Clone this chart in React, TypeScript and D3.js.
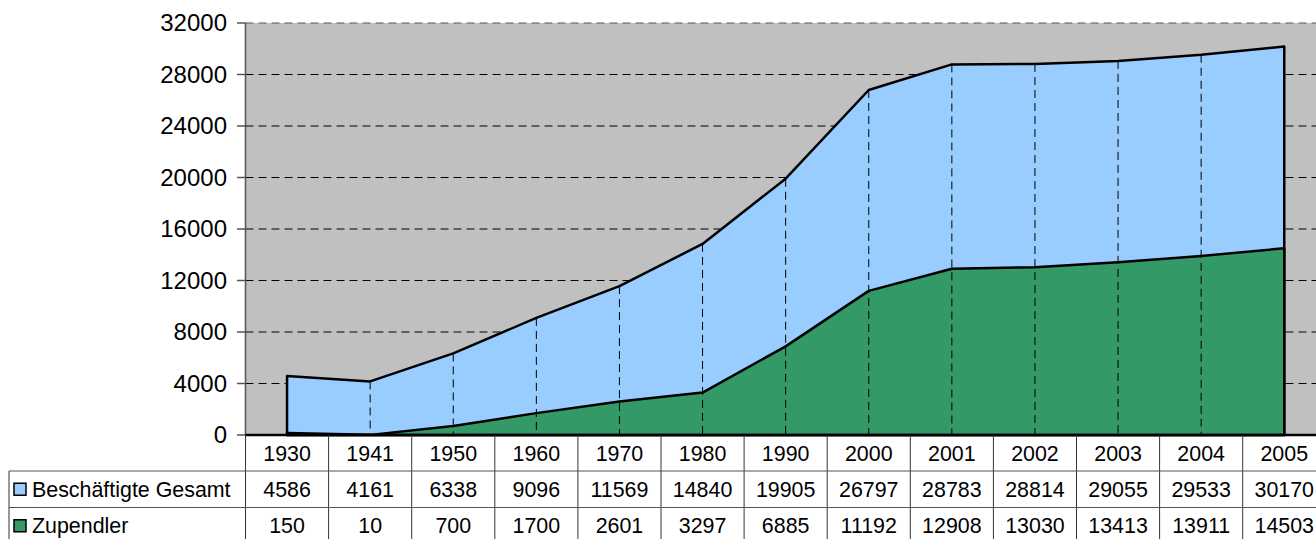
import React from "react";
import * as d3 from "d3";

const years = ["1930","1941","1950","1960","1970","1980","1990","2000","2001","2002","2003","2004","2005"];
const gesamt = [4586,4161,6338,9096,11569,14840,19905,26797,28783,28814,29055,29533,30170];
const zupendler = [150,10,700,1700,2601,3297,6885,11192,12908,13030,13413,13911,14503];
const yTicks = [0,4000,8000,12000,16000,20000,24000,28000,32000];
const seriesNames = ["Beschäftigte Gesamt","Zupendler"];
const seriesColors = ["#99CCFF","#339966"];

export default function App() {
  const W = 1316, H = 539;
  const left = 245.5, right = 245.5 + 13 * 83.1;
  const top = 23, bottom = 435;
  const x = d3.scaleBand<string>().domain(years).range([left, right]).padding(0);
  const bw = x.bandwidth();
  const cx = (d: string) => (x(d) as number) + bw / 2;
  const y = d3.scaleLinear().domain([0, 32000]).range([bottom, top]);

  const areaGen = (vals: number[]) =>
    d3.area<number>()
      .x((_, i) => cx(years[i]))
      .y0(y(0))
      .y1((v) => y(v))(vals) as string;
  const outline = (vals: number[]) => {
    const pts: [number, number][] = [[cx(years[0]), y(0)]];
    vals.forEach((v, i) => pts.push([cx(years[i]), y(v)]));
    pts.push([cx(years[years.length - 1]), y(0)]);
    return d3.line()(pts) + "Z";
  };

  const rowH = 36.5;
  const headerBottom = bottom + 36;
  const font = "'Liberation Sans', Arial, sans-serif";
  const rows = [gesamt, zupendler];
  const tfs = 21.4;

  return (
    <svg width={W} height={H} style={{ position: "absolute", left: 0, top: 0 }} fontFamily={font}>
      <rect x={0} y={0} width={W} height={H} fill="#fff" />
      <rect x={left} y={top} width={right - left} height={bottom - top} fill="#C0C0C0" />
      {yTicks.filter((t) => t > 0).map((t) => (
        <line key={t} x1={left} x2={right} y1={y(t)} y2={y(t)}
          stroke={t === 32000 ? "#555" : "#000"} strokeWidth={1} strokeDasharray="8,5" />
      ))}
      <path d={areaGen(gesamt)} fill={seriesColors[0]} />
      <path d={outline(gesamt)} fill="none" stroke="#000" strokeWidth={2.5} strokeLinejoin="round" />
      <path d={areaGen(zupendler)} fill={seriesColors[1]} />
      <path d={outline(zupendler)} fill="none" stroke="#000" strokeWidth={2.5} strokeLinejoin="round" />
      {years.slice(1, -1).map((yr, i) => (
        <line key={yr} x1={cx(yr)} x2={cx(yr)} y1={y(gesamt[i + 1])} y2={bottom}
          stroke="#000" strokeWidth={1} strokeDasharray="8,5" />
      ))}
      <line x1={left} x2={left} y1={top} y2={bottom} stroke="#555" strokeWidth={1.5} />
      {yTicks.map((t) => (
        <g key={t}>
          <line x1={237} x2={left} y1={y(t)} y2={y(t)} stroke="#555" strokeWidth={1.5} />
          <text x={227} y={y(t)} dy="0.35em" textAnchor="end" fontSize={24} fill="#000">{t}</text>
        </g>
      ))}
      <line x1={left} x2={right} y1={bottom} y2={bottom} stroke="#000" strokeWidth={2.5} />
      {years.map((yr) => (
        <text key={yr} x={cx(yr)} y={(bottom + headerBottom) / 2} dy="0.36em" textAnchor="middle" fontSize={tfs} fill="#000">{yr}</text>
      ))}
      {x.domain().concat(["end"]).map((yr, i) => {
        const xx = left + i * bw;
        return <line key={"v" + i} x1={xx} x2={xx} y1={bottom} y2={H} stroke="#333" strokeWidth={1} />;
      })}
      <line x1={9} x2={9} y1={headerBottom} y2={H} stroke="#333" strokeWidth={1} />
      {[0, 1].map((r) => (
        <line key={"h" + r} x1={9} x2={right} y1={headerBottom + r * rowH} y2={headerBottom + r * rowH} stroke="#555" strokeWidth={1} />
      ))}
      {rows.map((vals, r) => {
        const cy = headerBottom + r * rowH + rowH / 2;
        return (
          <g key={"r" + r}>
            <rect x={14} y={cy - 6} width={12} height={12} fill={seriesColors[r]} stroke="#000" strokeWidth={1.5} />
            <text x={32} y={cy} dy="0.36em" fontSize={tfs} fill="#000">{seriesNames[r]}</text>
            {vals.map((v, i) => (
              <text key={i} x={cx(years[i])} y={cy} dy="0.36em" textAnchor="middle" fontSize={tfs} fill="#000">{v}</text>
            ))}
          </g>
        );
      })}
    </svg>
  );
}
